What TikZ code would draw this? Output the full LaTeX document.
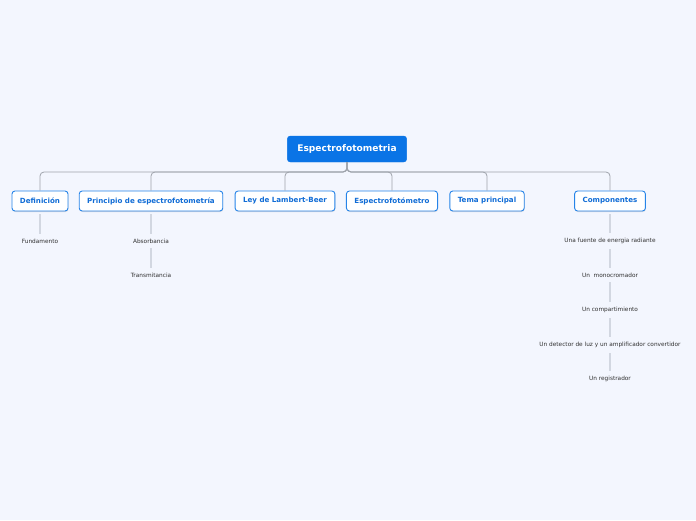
\documentclass[tikz,border=0pt]{standalone}
\usepackage{fontspec}
\setmainfont{DejaVu Sans}
\usepackage{tikz}
\usetikzlibrary{positioning, shadows}
\definecolor{mmbg}{RGB}{243,246,254}
\definecolor{mmblue}{RGB}{10,116,230}
\definecolor{mmborder}{RGB}{38,132,232}
\definecolor{mmtext}{RGB}{16,108,214}
\definecolor{mmgray}{RGB}{158,163,171}
\definecolor{mmlight}{RGB}{210,215,225}
\definecolor{mmleaf}{RGB}{50,50,50}

\begin{document}
\begin{tikzpicture}[
  x=1pt, y=-1pt,
  rootbox/.style={rectangle, draw=mmblue, fill=mmblue, text=white, rounded corners=3pt, minimum height=26pt, inner xsep=10pt, font=\fontsize{9.1}{10}\selectfont\bfseries},
  topic/.style={rectangle, draw=mmborder, line width=0.9pt, fill=white, text=mmtext, rounded corners=3pt, minimum height=20pt, inner xsep=8pt, font=\fontsize{7.1}{8}\selectfont\bfseries, drop shadow={opacity=0.25, shadow xshift=0.4pt, shadow yshift=-1pt}},
  leaf/.style={inner sep=2pt, text=mmleaf, font=\fontsize{5.8}{6.5}\selectfont},
  conn/.style={draw=mmgray, line width=0.8pt, rounded corners=4pt},
  leafline/.style={draw=mmlight, line width=1.3pt, shorten <=3pt, shorten >=3pt}
]
\fill[mmbg] (0,0) rectangle (696,520);
\useasboundingbox (0,0) rectangle (696,520);
% Tema central
\node[rootbox] (root) at (347,149) {Espectrofotometria};
\coordinate (bus) at (347,172);
% Ramas principales
\node[topic] (def) at (40,201) {Definición};
\node[topic] (princ) at (151,201) {Principio de espectrofotometría};
\node[topic] (ley) at (285,201) {Ley de Lambert-Beer};
\node[topic] (espec) at (392,201) {Espectrofotómetro};
\node[topic] (tema) at (487,201) {Tema principal};
\node[topic] (comp) at (610,201) {Componentes};
\foreach \t in {def, princ, ley, espec, tema, comp}
  \draw[conn] (root.south) -- (bus) -| (\t.north);
% Subtemas
\node[leaf] (fund) at (40,241) {Fundamento};
\node[leaf] (abs) at (151,241) {Absorbancia};
\node[leaf] (trans) at (151,275) {Transmitancia};
\node[leaf] (c1) at (610,241) {Una fuente de energia radiante};
\node[leaf] (c2) at (610,275) {Un\ \ monocromador};
\node[leaf] (c3) at (610,310) {Un compartimiento};
\node[leaf] (c4) at (610,345) {Un detector de luz y un amplificador convertidor};
\node[leaf] (c5) at (610,379) {Un registrador};
\draw[leafline] (def.south) -- (fund.north);
\draw[leafline] (princ.south) -- (abs.north);
\draw[leafline] (abs.south) -- (trans.north);
\draw[leafline] (comp.south) -- (c1.north);
\draw[leafline] (c1.south) -- (c2.north);
\draw[leafline] (c2.south) -- (c3.north);
\draw[leafline] (c3.south) -- (c4.north);
\draw[leafline] (c4.south) -- (c5.north);
\end{tikzpicture}
\end{document}
